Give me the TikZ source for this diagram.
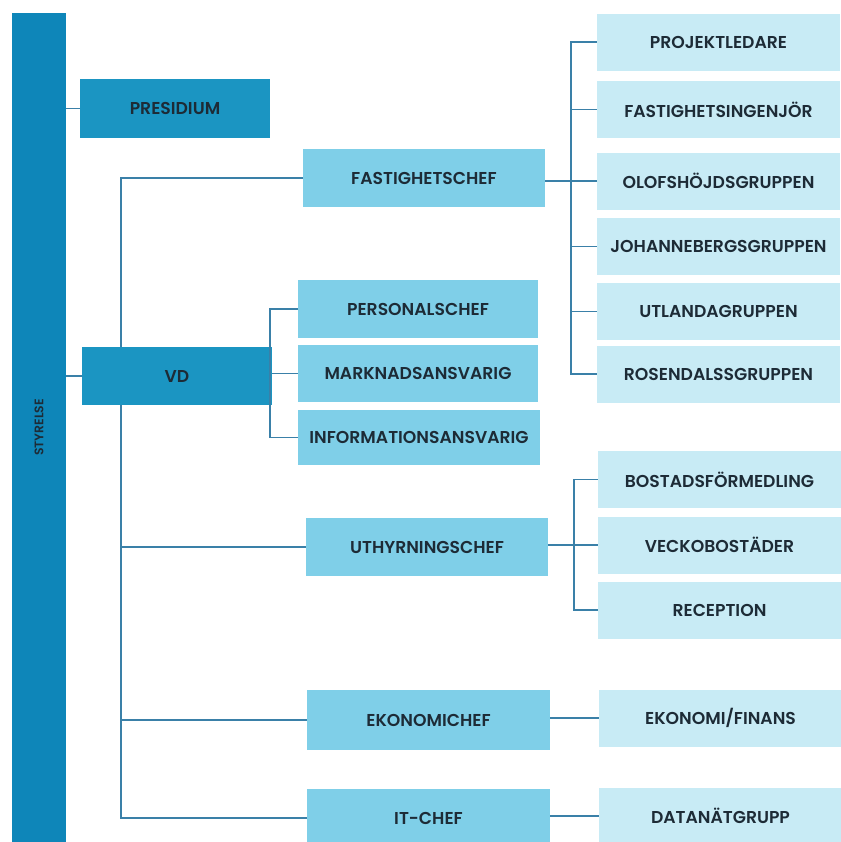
\documentclass[tikz,border=0pt]{standalone}
\usepackage{fontspec}
\setmainfont{Poppins}[UprightFont=* SemiBold]
\definecolor{barblue}{HTML}{0E86B9}
\definecolor{darkbox}{HTML}{1B95C2}
\definecolor{midbox}{HTML}{7FCFE8}
\definecolor{lightbox}{HTML}{C8EBF5}
\definecolor{linec}{HTML}{3A80A8}
\definecolor{txt}{HTML}{1D2B36}
\tikzset{
  base/.style={inner sep=0pt, text=txt, font=\fontsize{8.6}{10}\selectfont},
  dbox/.style={base, fill=darkbox},
  mbox/.style={base, fill=midbox},
  lbox/.style={base, fill=lightbox},
  conn/.style={draw=linec, line width=0.6pt},
}
\begin{document}
\begin{tikzpicture}[x=0.5pt,y=-0.5pt]
\useasboundingbox (0,0) rectangle (841,842);
\clip (0,0) rectangle (841,842);
\fill[white] (0,0) rectangle (841,842);
% STYRELSE bar
\node[base, fill=barblue, rotate=90, minimum width=414.5pt, minimum height=27pt, font=\fontsize{6.2}{7}\selectfont] (sty) at (39,427.5) {STYRELSE};
% left boxes
\node[dbox, minimum width=95pt, minimum height=29.5pt] (pre) at (175,108.5) {PRESIDIUM};
\node[dbox, minimum width=95pt, minimum height=29pt] (vd) at (177,376) {VD};
% middle
\node[mbox, minimum width=121pt, minimum height=29pt] (fc) at (424,178) {FASTIGHETSCHEF};
\node[mbox, minimum width=120pt, minimum height=29pt] (ps) at (418,309) {PERSONALSCHEF};
\node[mbox, minimum width=120pt, minimum height=28.5pt] (mk) at (418,373.5) {MARKNADSANSVARIG};
\node[mbox, minimum width=121pt, minimum height=27.5pt] (inf) at (419,437.5) {INFORMATIONSANSVARIG};
\node[mbox, minimum width=121pt, minimum height=29pt] (uth) at (427,547) {UTHYRNINGSCHEF};
\node[mbox, minimum width=121.5pt, minimum height=30pt] (eko) at (428.5,720) {EKONOMICHEF};
\node[mbox, minimum width=121.5pt, minimum height=29pt] (itc) at (428.5,818) {IT-CHEF};
% right column
\tikzset{rb/.style={lbox, minimum width=121.5pt, minimum height=28.5pt}}
\node[rb] (pl) at (718.5,42) {PROJEKTLEDARE};
\node[rb] (fi) at (718.5,109.5) {FASTIGHETSINGENJÖR};
\node[rb] (ol) at (718.5,181) {OLOFSHÖJDSGRUPPEN};
\node[rb] (jo) at (718.5,246.5) {JOHANNEBERGSGRUPPEN};
\node[rb] (ut) at (718.5,311.5) {UTLANDAGRUPPEN};
\node[rb] (ro) at (718.5,374) {ROSENDALSSGRUPPEN};
\node[rb] (bo) at (719.5,479.5) {BOSTADSFÖRMEDLING};
\node[rb] (ve) at (719.5,545) {VECKOBOSTÄDER};
\node[rb] (re) at (719.5,610) {RECEPTION};
\node[rb] (ef) at (720.5,718) {EKONOMI/FINANS};
\node[rb] (dn) at (720.5,816) {DATANÄTGRUPP};
% trunk coordinates
\coordinate (tr) at (121,0);
\coordinate (vr) at (270,0);
\coordinate (fr) at (571,0);
\coordinate (ur) at (574,0);
% connectors
\draw[conn] (pre.west) -- (pre.west -| sty.south);
\draw[conn] (vd.west) -- (vd.west -| sty.south);
\draw[conn] (fc.west) -| (vd.north -| tr);
\draw[conn] (vd.south -| tr) |- (itc.west);
\draw[conn] (uth.west) -- (uth.west -| tr);
\draw[conn] (eko.west) -- (eko.west -| tr);
\draw[conn] (ps.west) -| (inf.west -| vr) -- (inf.west);
\draw[conn] (mk.west) -- (mk.west -| vd.east);
\draw[conn] (pl.west) -| (ro.west -| fr) -- (ro.west);
\draw[conn] (fi.west) -- (fi.west -| fr);
\draw[conn] (jo.west) -- (jo.west -| fr);
\draw[conn] (ut.west) -- (ut.west -| fr);
\draw[conn] (ol.west) -- (ol.west -| fc.east);
\draw[conn] (bo.west) -| (re.west -| ur) -- (re.west);
\draw[conn] (ve.west) -- (ve.west -| uth.east);
\draw[conn] (ef.west) -- (ef.west -| eko.east);
\draw[conn] (dn.west) -- (dn.west -| itc.east);
\end{tikzpicture}
\end{document}
